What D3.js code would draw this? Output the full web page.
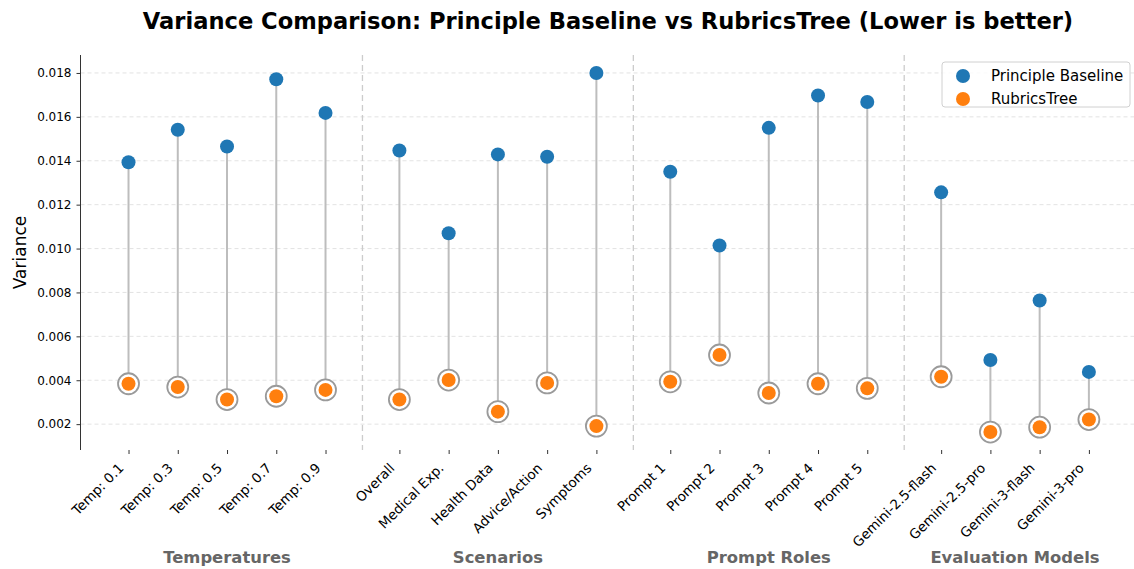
<!DOCTYPE html>
<html>
<head>
<meta charset="utf-8">
<script src="https://cdn.jsdelivr.net/npm/d3@7"></script>
<style>
	body {margin: 0; background: #fff;}
	text {font-family: "DejaVu Sans", sans-serif;}
</style>
</head>
<body>
<div id="chart"></div>
<script>
//categories, grouped
var groups = ["Temperatures", "Scenarios", "Prompt Roles", "Evaluation Models"];
var categories = [
	["Temp: 0.1", "Temp: 0.3", "Temp: 0.5", "Temp: 0.7", "Temp: 0.9"],
	["Overall", "Medical Exp.", "Health Data", "Advice/Action", "Symptoms"],
	["Prompt 1", "Prompt 2", "Prompt 3", "Prompt 4", "Prompt 5"],
	["Gemini-2.5-flash", "Gemini-2.5-pro", "Gemini-3-flash", "Gemini-3-pro"]
];
var baseline = [
	0.01393, 0.01541, 0.01465, 0.01771, 0.01618,
	0.01447, 0.01070, 0.01429, 0.01418, 0.01800,
	0.01350, 0.01014, 0.01550, 0.01697, 0.01668,
	0.01256, 0.00492, 0.00763, 0.00438
];
var rubricsTree = [
	0.00384, 0.00369, 0.00312, 0.00327, 0.00356,
	0.00312, 0.00401, 0.00257, 0.00388, 0.00191,
	0.00393, 0.00515, 0.00342, 0.00384, 0.00363,
	0.00416, 0.00164, 0.00186, 0.00221
];
var yTicks = [0.002, 0.004, 0.006, 0.008, 0.010, 0.012, 0.014, 0.016, 0.018];

var width = 1134, height = 569;
var plotLeft = 80.5, plotTop = 55, plotBottom = 450;

//positions: groups separated by a gap of half a slot
var points = [];
var seps = [];
var groupCenters = [];
var pos = 0, k = 0;
categories.forEach(function(cats, g){
	var start = pos;
	cats.forEach(function(c){
		points.push({cat: c, pos: pos, base: baseline[k], rt: rubricsTree[k]});
		pos++;
		k++;
	});
	groupCenters.push({name: groups[g], pos: (start + pos - 1) / 2});
	if(g < categories.length - 1){
		seps.push(pos - 0.25);
	}
	pos += 0.5;
});

var xMin = d3.min(points, function(d){return d.pos;}),
	xMax = d3.max(points, function(d){return d.pos;});
var xPad = (xMax - xMin) * 0.05;
var x = d3.scaleLinear()
	.domain([xMin - xPad, xMax + xPad])
	.range([plotLeft, plotLeft + (xMax - xMin + 2 * xPad) * 49.25]);

var all = baseline.concat(rubricsTree);
var yMin = d3.min(all), yMax = d3.max(all);
var yPad = (yMax - yMin) * 0.05;
var y = d3.scaleLinear()
	.domain([yMin - yPad, yMax + yPad])
	.range([plotBottom, plotTop]);

var svg = d3.select("#chart").append("svg")
	.attr("width", width)
	.attr("height", height);

//title
svg.append("text")
	.attr("x", 608)
	.attr("y", 29)
	.attr("text-anchor", "middle")
	.style("font-size", "22.6px")
	.style("font-weight", "bold")
	.text("Variance Comparison: Principle Baseline vs RubricsTree (Lower is better)");

//grid
svg.append("g")
	.selectAll("line")
	.data(yTicks)
	.enter().append("line")
		.attr("x1", plotLeft)
		.attr("x2", width)
		.attr("y1", function(d){return y(d);})
		.attr("y2", function(d){return y(d);})
		.attr("stroke", "#dcdcdc")
		.attr("stroke-width", 0.8)
		.attr("stroke-dasharray", "4,3");

//group separators
svg.append("g")
	.selectAll("line")
	.data(seps)
	.enter().append("line")
		.attr("x1", function(d){return x(d);})
		.attr("x2", function(d){return x(d);})
		.attr("y1", plotTop)
		.attr("y2", plotBottom)
		.attr("stroke", "#cccccc")
		.attr("stroke-width", 1.3)
		.attr("stroke-dasharray", "6,4");

//y axis
var yAxis = svg.append("g")
	.attr("transform", "translate(" + plotLeft + ",0)")
	.call(d3.axisLeft(y).tickValues(yTicks).tickFormat(d3.format(".3f")).tickSize(4).tickPadding(5));
yAxis.select(".domain").attr("d", "M0," + plotTop + "V" + plotBottom).attr("stroke", "#333");
yAxis.selectAll(".tick line").attr("stroke", "#333");
yAxis.selectAll("text").style("font-size", "12px").attr("fill", "#000");

svg.append("text")
	.attr("transform", "translate(26," + ((plotTop + plotBottom) / 2) + ") rotate(-90)")
	.attr("text-anchor", "middle")
	.style("font-size", "17px")
	.text("Variance");

//x axis, no domain line
var xAxis = svg.append("g")
	.attr("transform", "translate(0," + plotBottom + ")")
	.call(d3.axisBottom(x).tickValues(points.map(function(d){return d.pos;})).tickSize(4).tickFormat(""));
xAxis.select(".domain").remove();
xAxis.selectAll(".tick line").attr("stroke", "#333");

svg.append("g")
	.selectAll("text")
	.data(points)
	.enter().append("text")
		.attr("transform", function(d){return "translate(" + (x(d.pos) - 4) + "," + (plotBottom + 19) + ") rotate(-45)";})
		.attr("text-anchor", "end")
		.style("font-size", "13.5px")
		.text(function(d){return d.cat;});

//group labels
svg.append("g")
	.selectAll("text")
	.data(groupCenters)
	.enter().append("text")
		.attr("x", function(d){return x(d.pos);})
		.attr("y", 563)
		.attr("text-anchor", "middle")
		.style("font-size", "16.4px")
		.style("font-weight", "bold")
		.attr("fill", "#666")
		.text(function(d){return d.name;});

//stems
svg.append("g")
	.selectAll("line")
	.data(points)
	.enter().append("line")
		.attr("x1", function(d){return x(d.pos);})
		.attr("x2", function(d){return x(d.pos);})
		.attr("y1", function(d){return y(d.base);})
		.attr("y2", function(d){return y(d.rt);})
		.attr("stroke", "#bdbdbd")
		.attr("stroke-width", 2);

//rings round the RubricsTree points
svg.append("g")
	.selectAll("circle")
	.data(points)
	.enter().append("circle")
		.attr("cx", function(d){return x(d.pos);})
		.attr("cy", function(d){return y(d.rt);})
		.attr("r", 10.5)
		.attr("fill", "#fff")
		.attr("stroke", "#9a9a9a")
		.attr("stroke-width", 1.8);

svg.append("g")
	.selectAll("circle")
	.data(points)
	.enter().append("circle")
		.attr("cx", function(d){return x(d.pos);})
		.attr("cy", function(d){return y(d.base);})
		.attr("r", 7)
		.attr("fill", "#1f77b4");

svg.append("g")
	.selectAll("circle")
	.data(points)
	.enter().append("circle")
		.attr("cx", function(d){return x(d.pos);})
		.attr("cy", function(d){return y(d.rt);})
		.attr("r", 7)
		.attr("fill", "#ff7f0e");

//legend
var legend = svg.append("g");
legend.append("rect")
	.attr("x", 942)
	.attr("y", 62)
	.attr("width", 188)
	.attr("height", 45)
	.attr("rx", 3)
	.attr("fill", "#fff")
	.attr("fill-opacity", 0.8)
	.attr("stroke", "#d0d0d0");
var legendItems = [{name: "Principle Baseline", color: "#1f77b4"}, {name: "RubricsTree", color: "#ff7f0e"}];
legendItems.forEach(function(d, i){
	legend.append("circle")
		.attr("cx", 963)
		.attr("cy", 76 + i * 23)
		.attr("r", 7)
		.attr("fill", d.color);
	legend.append("text")
		.attr("x", 991)
		.attr("y", 81 + i * 23)
		.style("font-size", "15px")
		.text(d.name);
});
</script>
</body>
</html>
